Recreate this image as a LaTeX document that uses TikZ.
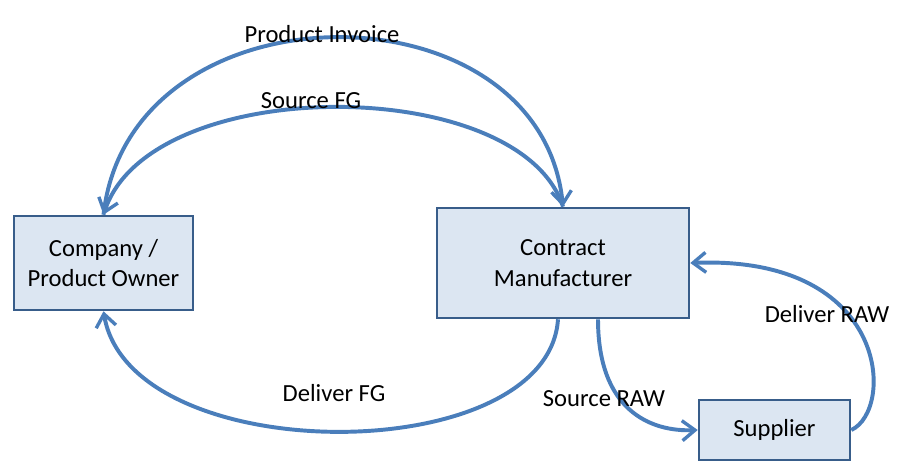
\documentclass[tikz,border=0pt]{standalone}
\usepackage{fontspec}
\setmainfont{Carlito}
\usepackage{tikz}
\usetikzlibrary{arrows.meta, positioning}
\definecolor{boxfill}{HTML}{DCE6F2}
\definecolor{boxline}{HTML}{385D8A}
\definecolor{flow}{HTML}{4A7EBB}
\tikzset{
  party/.style={rectangle, draw=boxline, fill=boxfill, line width=1.8pt, align=center, text centered, font=\fontsize{17.5}{21.5}\selectfont},
  flowarrow/.style={draw=flow, line width=2.8pt, -{Straight Barb[length=3.2mm, width=5mm, line width=2.4pt]}},
  tag/.style={font=\fontsize{17.5}{21.5}\selectfont, inner sep=0pt}
}

\begin{document}
\begin{tikzpicture}[x=0.025cm, y=-0.025cm]
    % Marco de la imagen (en pixeles)
    \useasboundingbox (0,0) rectangle (902,473);

    % Los tres actores
    \node[party, minimum width=4.475cm, minimum height=2.35cm] (owner) at (103.5,263) {Company /\\Product Owner};
    \node[party, minimum width=6.3cm, minimum height=2.75cm] (maker) at (563,263) {Contract\\Manufacturer};
    \node[party, minimum width=3.775cm, minimum height=1.5cm] (supplier) at (774.5,430) {Supplier};

    % Flujos entre company y manufacturer
    \draw[flowarrow] (owner.north) .. controls (130,-20) and (540,-20) .. (maker.north);
    \draw[flowarrow] (maker.north) .. controls (520,73) and (150,73) .. (owner.north);
    \draw[flowarrow] ([xshift=-0.125cm]maker.south) .. controls (548,470) and (130,470) .. (owner.south);

    % Flujos con el supplier
    \draw[flowarrow] ([xshift=0.875cm]maker.south) .. controls (598,410) and (650,432) .. (supplier.west);
    \draw[flowarrow] (supplier.east) .. controls (895,410) and (890,255) .. (maker.east);

    % Etiquetas
    \node[tag] (invoice) at (322,34) {Product Invoice};
    \node[tag] (sourcefg) at (311,101) {Source FG};
    \node[tag] (deliverfg) at (334,393) {Deliver FG};
    \node[tag] (sourceraw) at (604,399) {Source RAW};
    \node[tag] (deliverraw) at (827,314) {Deliver RAW};
\end{tikzpicture}
\end{document}
